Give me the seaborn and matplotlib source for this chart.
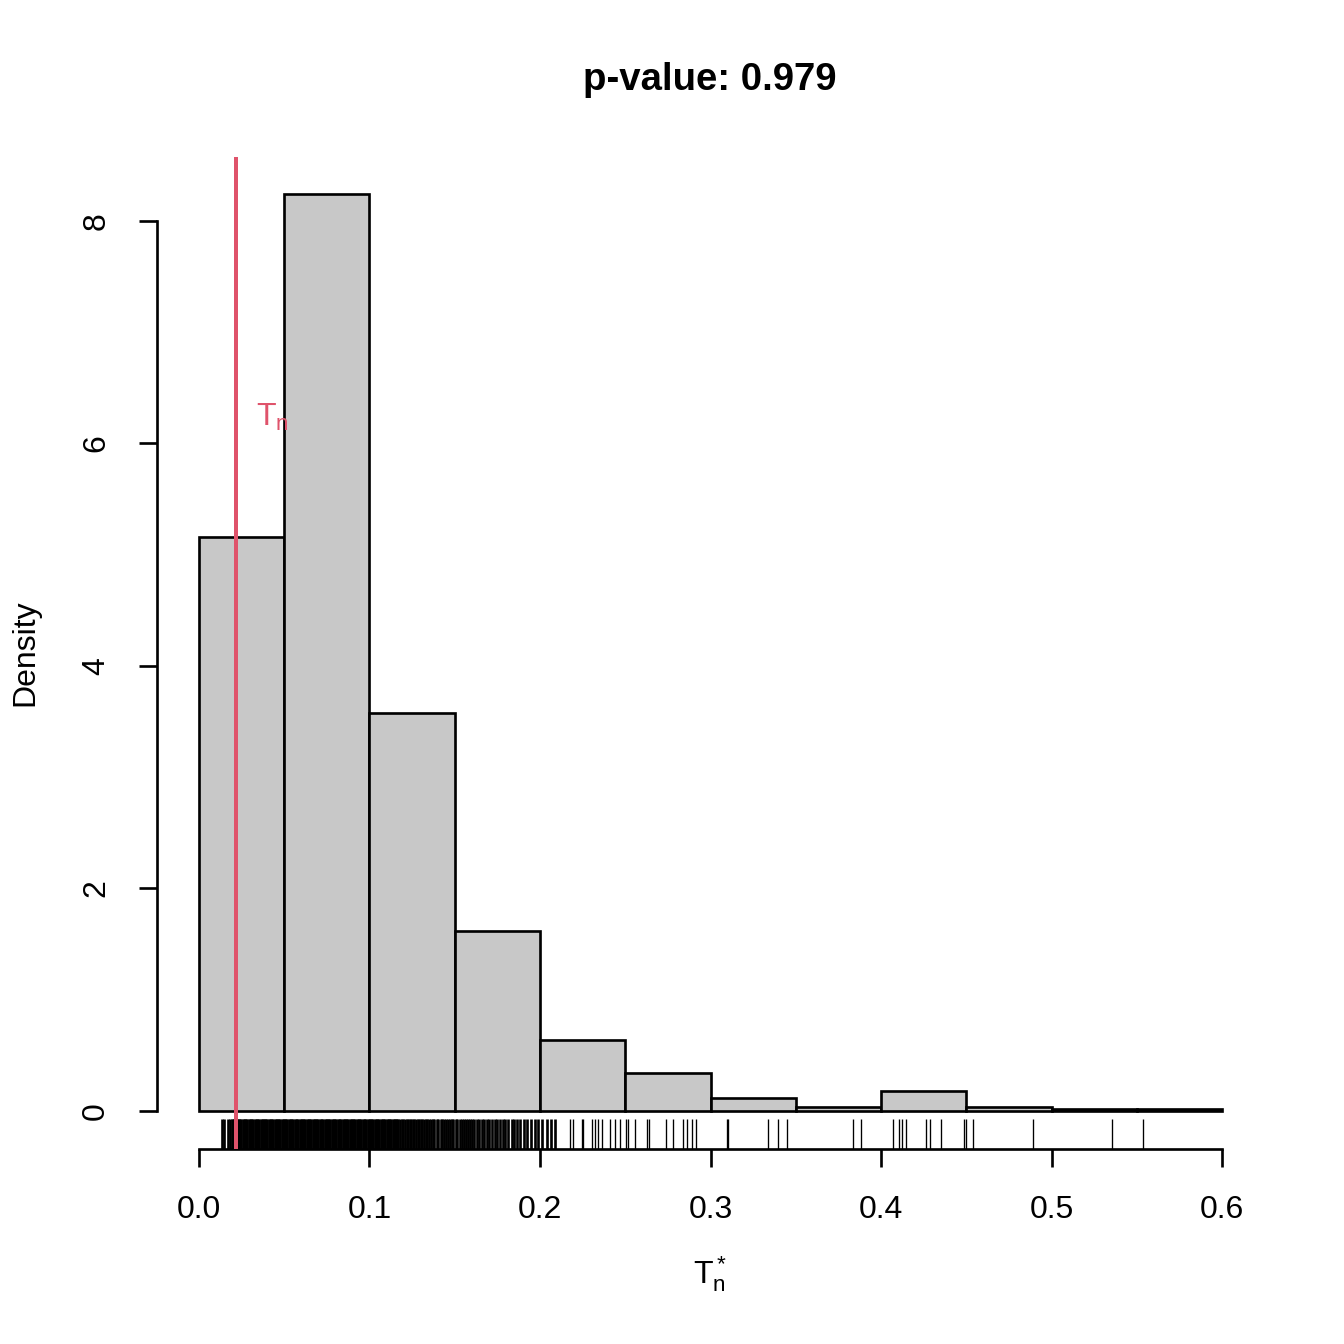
import numpy as np
import pandas as pd
import seaborn as sns
import matplotlib
matplotlib.use("Agg")
import matplotlib.pyplot as plt

# ---- data ----
bin_edges = [0.0, 0.05, 0.10, 0.15, 0.20, 0.25, 0.30, 0.35, 0.40, 0.45, 0.50, 0.55, 0.60]
densities = [5.16, 8.24, 3.58, 1.62, 0.64, 0.34, 0.12, 0.04, 0.18, 0.04, 0.02, 0.02]

rug_dense = [
    0.0137, 0.0149, 0.0172, 0.0185, 0.0193, 0.0201, 0.0208, 0.0214, 0.0221, 0.0229,
    0.0236, 0.0242, 0.0249, 0.0257, 0.0263, 0.0270, 0.0278, 0.0284, 0.0291, 0.0299,
    0.0305, 0.0312, 0.0318, 0.0326, 0.0333, 0.0339, 0.0347, 0.0353, 0.0361, 0.0367,
    0.0374, 0.0381, 0.0388, 0.0394, 0.0402, 0.0409, 0.0415, 0.0423, 0.0429, 0.0436,
    0.0444, 0.0450, 0.0457, 0.0465, 0.0471, 0.0478, 0.0486, 0.0492, 0.0499, 0.0506,
    0.0512, 0.0519, 0.0527, 0.0533, 0.0540, 0.0548, 0.0554, 0.0561, 0.0569, 0.0575,
    0.0582, 0.0590, 0.0596, 0.0603, 0.0611, 0.0617, 0.0624, 0.0632, 0.0638, 0.0645,
    0.0653, 0.0659, 0.0666, 0.0674, 0.0680, 0.0687, 0.0695, 0.0701, 0.0708, 0.0716,
    0.0722, 0.0729, 0.0737, 0.0743, 0.0750, 0.0758, 0.0764, 0.0771, 0.0779, 0.0785,
    0.0792, 0.0800, 0.0806, 0.0813, 0.0821, 0.0827, 0.0834, 0.0842, 0.0848, 0.0855,
    0.0863, 0.0869, 0.0876, 0.0884, 0.0890, 0.0897, 0.0905, 0.0911, 0.0918, 0.0926,
    0.0932, 0.0939, 0.0947, 0.0953, 0.0960, 0.0968, 0.0974, 0.0981, 0.0989, 0.0995,
    0.1002, 0.1010, 0.1016, 0.1023, 0.1031, 0.1037, 0.1044, 0.1052, 0.1058, 0.1065,
    0.1073, 0.1079, 0.1086, 0.1094, 0.1100, 0.1107, 0.1115, 0.1121, 0.1128, 0.1136,
    0.1142, 0.1149, 0.1157, 0.1163, 0.1170, 0.1181, 0.1192, 0.1199, 0.1210, 0.1218,
    0.1227, 0.1235, 0.1246, 0.1253, 0.1262, 0.1274, 0.1283, 0.1291, 0.1302, 0.1311,
    0.1322, 0.1331, 0.1340, 0.1352, 0.1361, 0.1373, 0.1380, 0.1394, 0.1402, 0.1417,
    0.1425, 0.1436, 0.1449, 0.1458, 0.1471, 0.1483, 0.1490, 0.1506, 0.1514, 0.1529,
    0.1541, 0.1552, 0.1566, 0.1578, 0.1587, 0.1603, 0.1615, 0.1631, 0.1642, 0.1660,
    0.1672, 0.1688, 0.1703, 0.1717, 0.1734, 0.1745, 0.1763, 0.1781, 0.1796, 0.1812,
    0.1833, 0.1849, 0.1868, 0.1885, 0.1907, 0.1925, 0.1948, 0.1969, 0.1991, 0.2012,
    0.2041, 0.2066, 0.2090,
]
rug_tail = [
    0.2176, 0.2196, 0.2244, 0.2254, 0.2303, 0.2323, 0.2342, 0.2362, 0.2411, 0.2440,
    0.2469, 0.2504, 0.2518, 0.2557, 0.2626, 0.2641, 0.2739, 0.2778, 0.2837, 0.2860,
    0.2890, 0.2915, 0.3095, 0.3105, 0.3339, 0.3398, 0.3451, 0.3838, 0.3881, 0.4069,
    0.4108, 0.4121, 0.4147, 0.4264, 0.4287, 0.4350, 0.4487, 0.4499, 0.4541, 0.4893,
    0.5353, 0.5538,
]
t_n = 0.0217
title = "p-value: 0.979"
y_ticks = [0, 2, 4, 6, 8]
x_ticks = [0.0, 0.1, 0.2, 0.3, 0.4, 0.5, 0.6]

# ---- plotting ----
sns.set_style("white")
plt.rcParams['font.family'] = ['Liberation Sans', 'DejaVu Sans']
plt.rcParams['mathtext.fontset'] = 'custom'
plt.rcParams['mathtext.rm'] = 'Liberation Sans'
plt.rcParams['mathtext.it'] = 'Liberation Sans'
plt.rcParams['text.color'] = 'black'
plt.rcParams['xtick.color'] = 'black'
plt.rcParams['ytick.color'] = 'black'
plt.rcParams['axes.labelcolor'] = 'black'

W = H = 1344
fig = plt.figure(figsize=(7, 7), dpi=192)
ax = fig.add_axes([157 / W, 1 - 1149 / H, (1264 - 157) / W, (1149 - 157) / H])

df = pd.DataFrame({"x": [(a + b) / 2 for a, b in zip(bin_edges[:-1], bin_edges[1:])],
                   "w": densities})
sns.histplot(data=df, x="x", weights="w", bins=bin_edges, stat="count",
             color="#C8C8C8", edgecolor="black", linewidth=1.0, alpha=1.0, ax=ax)

sns.rugplot(x=rug_dense, height=0.030, color="black", linewidth=1.0, alpha=1.0, ax=ax)
sns.rugplot(x=rug_tail, height=0.030, color="black", linewidth=0.5, alpha=1.0, ax=ax)

ax.axvline(t_n, color="#DF536B", linewidth=1.5, zorder=5)
ax.text(t_n + 0.0215, 6.23, r"$\mathregular{T_n}$", color="#DF536B", fontsize=12,
        ha="center", va="center")

ax.set_xlim(-0.0246, 0.6246)
ax.set_ylim(-0.3416, 8.575)

for s in ["top", "right"]:
    ax.spines[s].set_visible(False)
ax.spines["left"].set_bounds(0, 8)
ax.spines["bottom"].set_bounds(0, 0.6)
for s in ["left", "bottom"]:
    ax.spines[s].set_linewidth(1.0)
    ax.spines[s].set_color("black")

ax.set_xticks(x_ticks)
ax.set_xticklabels([f"{v:.1f}" for v in x_ticks])
ax.set_yticks(y_ticks)
ax.set_yticklabels([str(v) for v in y_ticks], rotation=90, va="center")
ax.tick_params(axis="both", direction="out", length=6.7, width=1.0, color="black",
               labelcolor="black", labelsize=12, pad=10.5, left=True, bottom=True)
ax.set_xlabel("")
ax.set_ylabel("")

fig.text(710 / W, 1 - 80 / H, title, ha="center", va="center", fontsize=14.4,
         fontweight="bold", color="black")
fig.text(25 / W, 1 - 653 / H, "Density", ha="center", va="center", rotation=90,
         fontsize=12, color="black")
fig.text(710 / W, 1 - 1274 / H, r"$\mathregular{T_n^*}$", ha="center", va="center",
         fontsize=12, color="black")

fig.savefig("out.png", dpi=192, facecolor="white")
